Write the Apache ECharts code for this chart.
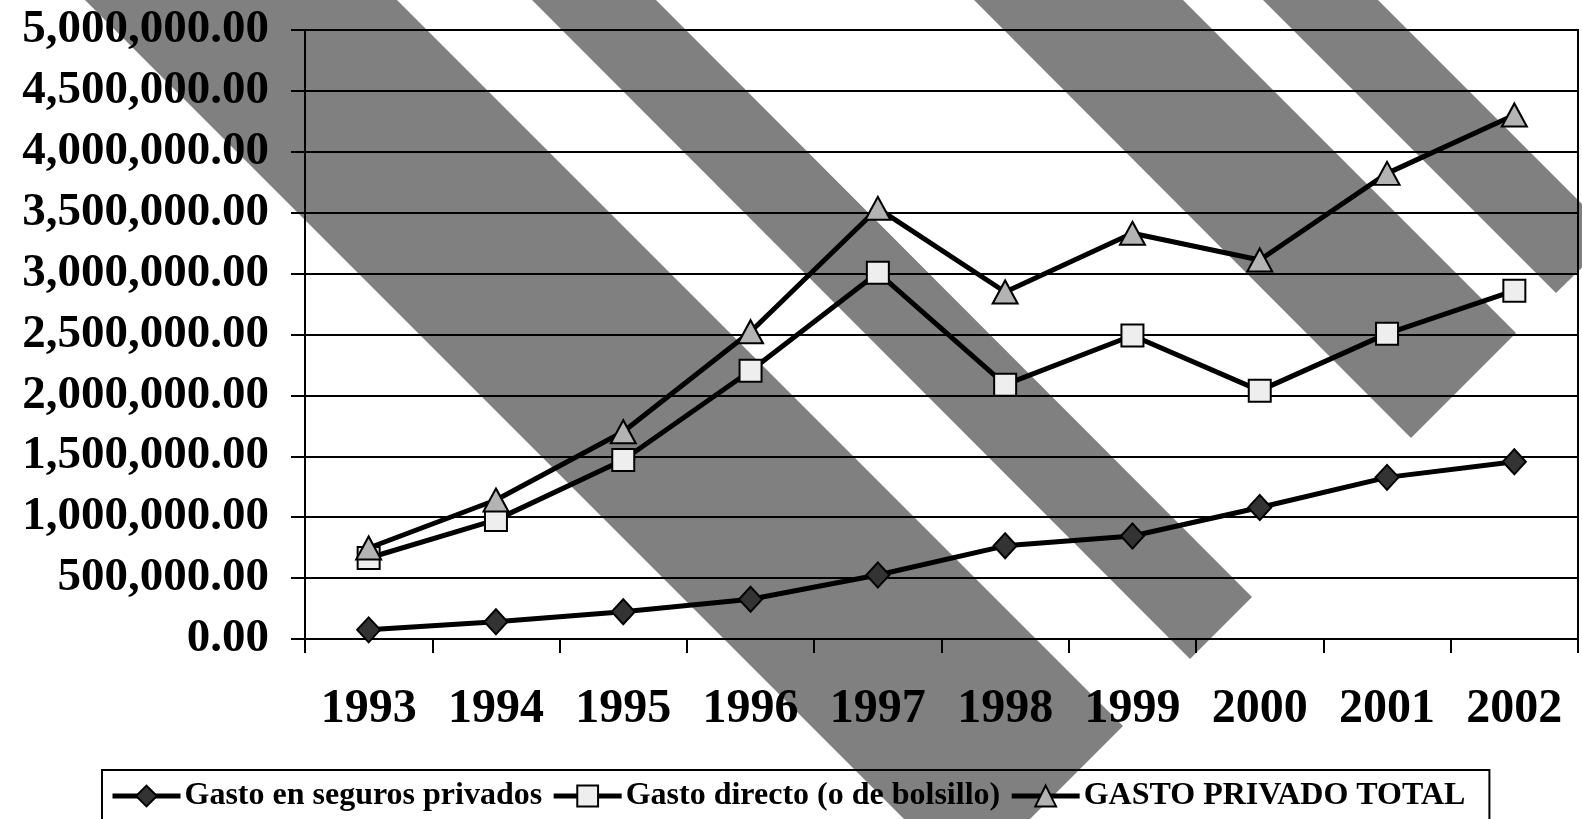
<!DOCTYPE html>
<html>
<head>
<meta charset="utf-8">
<script src="https://cdn.jsdelivr.net/npm/echarts@6/dist/echarts.min.js"></script>
<style>
  html, body { margin: 0; padding: 0; background: #fff; }
  #main { width: 1582px; height: 819px; }
</style>
</head>
<body>
<div id="main"></div>
<script>
// datos
const years = ['1993', '1994', '1995', '1996', '1997', '1998', '1999', '2000', '2001', '2002'];
const seriesNames = ['Gasto en seguros privados', 'Gasto directo (o de bolsillo)', 'GASTO PRIVADO TOTAL'];
const gastoSeguros = [75000, 142000, 224000, 326000, 525000, 765000, 846000, 1080000, 1327000, 1456000];
const gastoDirecto = [665000, 978000, 1470000, 2203000, 3007000, 2088000, 2492000, 2039000, 2507000, 2860000];
const gastoTotal = [747000, 1141000, 1702000, 2523000, 3536000, 2849000, 3331000, 3112000, 3823000, 4302000];
const yTicks = [0, 500000, 1000000, 1500000, 2000000, 2500000, 3000000, 3500000, 4000000, 4500000, 5000000];

// franjas grises del fondo (decoracion)
const stripes = [
  [[85, 0], [397, 0], [1123, 726], [967, 882]],
  [[532, 0], [656, 0], [1252, 597], [1190, 659]],
  [[974, 0], [1183, 0], [1516, 333], [1411, 438]],
  [[1263, 0], [1378, 0], [1614, 236], [1556, 293]]
];

const font = '"Liberation Serif", "Times New Roman", serif';

function fmt(v) {
  const parts = Number(v).toFixed(2).split('.');
  return parts[0].replace(/\B(?=(\d{3})+$)/g, ',') + '.' + parts[1];
}

const myChart = echarts.init(document.getElementById('main'));

const option = {
  animation: false,
  backgroundColor: '#fff',
  graphic: stripes.map(function (pts) {
    return {
      type: 'polygon',
      z: -10,
      silent: true,
      shape: { points: pts },
      style: { fill: '#808080' }
    };
  }),
  grid: {
    left: 305,
    right: 4,
    top: 30,
    bottom: 180,
    show: true,
    borderColor: '#000',
    borderWidth: 2,
    backgroundColor: 'transparent'
  },
  legend: {
    data: seriesNames,
    left: 102,
    top: 770,
    orient: 'horizontal',
    borderColor: '#000',
    borderWidth: 2,
    padding: [10, 24, 40, 8],
    itemGap: 9,
    itemWidth: 68,
    itemHeight: 26,
    lineStyle: { color: '#000', width: 5 },
    textStyle: {
      fontFamily: font,
      fontWeight: 'bold',
      fontSize: 32,
      color: '#000',
      padding: [0, 0, 0, -1]
    }
  },
  xAxis: {
    type: 'category',
    data: years,
    boundaryGap: true,
    axisLine: { lineStyle: { color: '#000', width: 2 } },
    axisTick: { show: true, length: 14, lineStyle: { color: '#000', width: 2 } },
    axisLabel: {
      fontFamily: font,
      fontWeight: 'bold',
      fontSize: 48,
      color: '#000',
      margin: 47
    }
  },
  yAxis: {
    type: 'value',
    min: yTicks[0],
    max: yTicks[yTicks.length - 1],
    interval: yTicks[1] - yTicks[0],
    axisLine: { show: true, lineStyle: { color: '#000', width: 2 } },
    axisTick: { show: true, length: 14, lineStyle: { color: '#000', width: 2 } },
    splitLine: { lineStyle: { color: '#000', width: 2 } },
    axisLabel: {
      fontFamily: font,
      fontWeight: 'bold',
      fontSize: 47,
      color: '#000',
      margin: 36,
      formatter: fmt
    }
  },
  series: [
    {
      name: seriesNames[0],
      type: 'line',
      data: gastoSeguros,
      symbol: 'diamond',
      symbolSize: [23, 25],
      lineStyle: { color: '#000', width: 5 },
      itemStyle: { color: '#333333', borderColor: '#000', borderWidth: 2 },
      z: 3
    },
    {
      name: seriesNames[1],
      type: 'line',
      data: gastoDirecto,
      symbol: 'rect',
      symbolSize: 22,
      lineStyle: { color: '#000', width: 5 },
      itemStyle: { color: '#eeeeee', borderColor: '#000', borderWidth: 2 },
      z: 3
    },
    {
      name: seriesNames[2],
      type: 'line',
      data: gastoTotal,
      symbol: 'triangle',
      symbolSize: [25, 23],
      lineStyle: { color: '#000', width: 5 },
      itemStyle: { color: '#b3b3b3', borderColor: '#000', borderWidth: 2 },
      z: 4
    }
  ]
};

myChart.setOption(option);
</script>
</body>
</html>
